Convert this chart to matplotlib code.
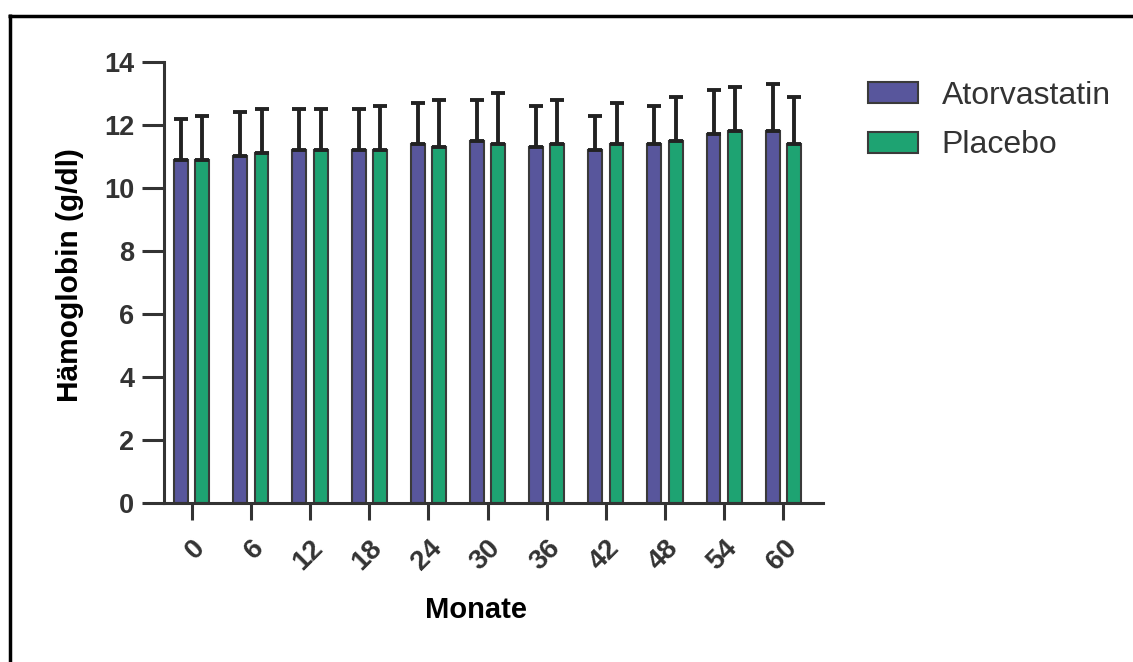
import matplotlib
matplotlib.use("Agg")
import matplotlib.pyplot as plt
import numpy as np
from matplotlib.lines import Line2D

plt.rcParams['font.family'] = ['Liberation Sans', 'DejaVu Sans']

months = ["0", "6", "12", "18", "24", "30", "36", "42", "48", "54", "60"]
atorva_mean = [10.9, 11.0, 11.2, 11.2, 11.4, 11.5, 11.3, 11.2, 11.4, 11.7, 11.8]
atorva_upper = [12.2, 12.4, 12.5, 12.5, 12.7, 12.8, 12.6, 12.3, 12.6, 13.1, 13.3]
placebo_mean = [10.9, 11.1, 11.2, 11.2, 11.3, 11.4, 11.4, 11.4, 11.5, 11.8, 11.4]
placebo_upper = [12.3, 12.5, 12.5, 12.6, 12.8, 13.0, 12.8, 12.7, 12.9, 13.2, 12.9]

blue = "#58569c"
green = "#1ea372"
edge = "#3a3a3a"
axc = "#333333"

W, H = 1133, 662
fig = plt.figure(figsize=(W / 100, H / 100), dpi=100)
ax_l, ax_r, ax_t, ax_b = 163.5, 823, 62, 502.7
ax = fig.add_axes([ax_l / W, 1 - ax_b / H, (ax_r - ax_l) / W, (ax_b - ax_t) / H])

def ax_xfrac(px):
    return (px - ax_l) / (ax_r - ax_l)

def ax_yfrac(py):
    return (ax_b - py) / (ax_b - ax_t)

x = np.arange(len(months))
w = 0.235
off = 0.18
a_err = np.array(atorva_upper) - np.array(atorva_mean)
p_err = np.array(placebo_upper) - np.array(placebo_mean)

ax.bar(x - off, atorva_mean, width=w, color=blue, edgecolor=edge, linewidth=1.5,
       label="Atorvastatin", zorder=2)
ax.bar(x + off, placebo_mean, width=w, color=green, edgecolor=edge, linewidth=1.5,
       label="Placebo", zorder=2)
ax.errorbar(x - off, atorva_mean, yerr=[np.zeros_like(a_err), a_err], fmt="none",
            ecolor="#222222", elinewidth=2.8, capsize=5, capthick=2.8, zorder=3)
ax.errorbar(x + off, placebo_mean, yerr=[np.zeros_like(p_err), p_err], fmt="none",
            ecolor="#222222", elinewidth=2.8, capsize=5, capthick=2.8, zorder=3)

ax.set_xlim(-0.477, 10.67)
ax.set_ylim(0, 14)
ax.set_yticks(np.arange(0, 15, 2))
ax.set_xticks(x)
ax.set_xticklabels(months, rotation=45, ha="right", rotation_mode="anchor",
                   fontsize=20, fontweight="bold", color=axc)
for lab in ax.get_yticklabels():
    lab.set_fontsize(19.5)
    lab.set_fontweight("bold")
    lab.set_color(axc)

for s in ["top", "right"]:
    ax.spines[s].set_visible(False)
for s in ["left", "bottom"]:
    ax.spines[s].set_linewidth(2.2)
    ax.spines[s].set_color(axc)
ax.tick_params(axis="y", length=16, width=2.2, color=axc, pad=5)
ax.tick_params(axis="x", length=12, width=2.2, color=axc, pad=11)

ax.set_ylabel("Hämoglobin (g/dl)", fontsize=21.5, fontweight="bold")
ax.yaxis.set_label_coords(ax_xfrac(84), ax_yfrac(275.5))
ax.set_xlabel("Monate", fontsize=21, fontweight="bold")
ax.xaxis.set_label_coords(ax_xfrac(476), ax_yfrac(596))

leg = ax.legend(loc="upper left", bbox_to_anchor=(ax_xfrac(868), ax_yfrac(81)),
                frameon=False, fontsize=23, handlelength=1.55, handleheight=0.62,
                handletextpad=0.75, labelspacing=0.61, borderpad=0, borderaxespad=0,
                labelcolor="#333333")

fig.add_artist(Line2D([8 / W, 1.0], [1 - 15.5 / H, 1 - 15.5 / H],
                      transform=fig.transFigure, color="black", linewidth=2.5,
                      solid_capstyle="butt"))
fig.add_artist(Line2D([9.5 / W, 9.5 / W], [0, 1 - 14.3 / H],
                      transform=fig.transFigure, color="black", linewidth=2.5,
                      solid_capstyle="butt"))

fig.savefig("out.png", dpi=100)
